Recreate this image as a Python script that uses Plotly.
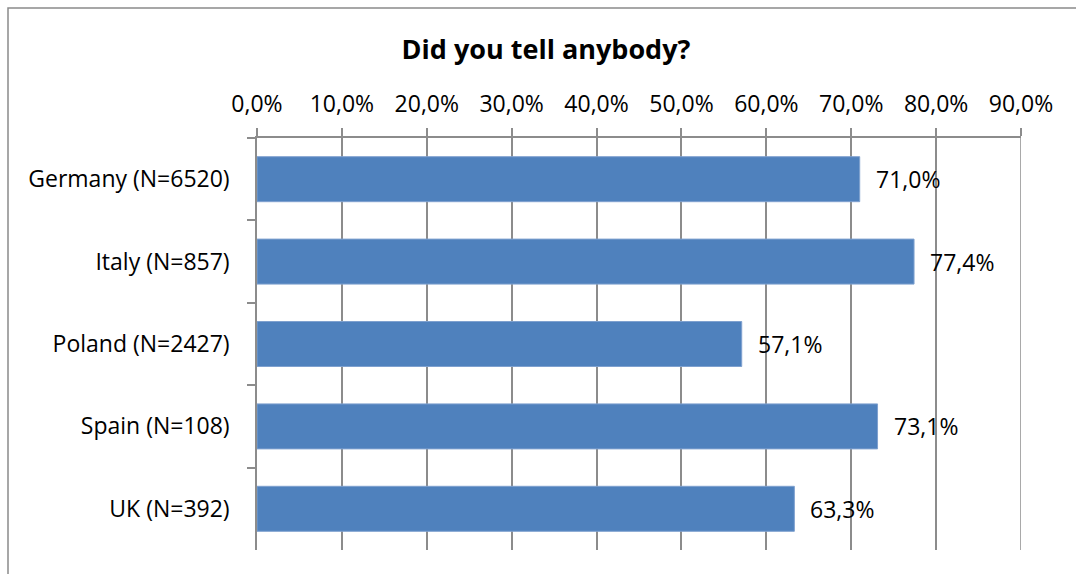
import plotly.graph_objects as go

# Survey responses: share who told anybody, by country
countries = ["Germany (N=6520)", "Italy (N=857)", "Poland (N=2427)", "Spain (N=108)", "UK (N=392)"]
told_pct = [71.0, 77.4, 57.1, 73.1, 63.3]
tick_vals = [0, 10, 20, 30, 40, 50, 60, 70, 80, 90]
tick_text = ["0,0%", "10,0%", "20,0%", "30,0%", "40,0%", "50,0%", "60,0%", "70,0%", "80,0%", "90,0%"]

W, H = 1076, 574
L, R, T, B = 257, 55, 138, 24

FONT = "Open Sans"
BAR = "#4F81BD"
AXIS = "#8C8C8C"
TXT = 23


def pct_label(v):
    return f"{v:.1f}".replace(".", ",") + "%"


fig = go.Figure()
fig.add_trace(go.Bar(
    y=countries,
    x=told_pct,
    orientation="h",
    marker=dict(color=BAR, line=dict(color="#7FA1CF", width=1)),
    width=0.546,
    hoverinfo="skip",
))

# value labels just outside the bar ends
for c, v in zip(countries, told_pct):
    fig.add_annotation(
        x=v, y=c, xref="x", yref="y",
        text=pct_label(v), showarrow=False,
        xanchor="left", yanchor="middle", xshift=14,
        font=dict(family=FONT, size=TXT, color="#000000"),
    )

# gridline at the last tick, which sits on the plot edge
fig.add_shape(
    type="line", xref="x", yref="paper",
    x0=tick_vals[-1], x1=tick_vals[-1], y0=0, y1=1,
    line=dict(color=AXIS, width=1.5), layer="below",
)

# outer chart frame
pw, ph = W - L - R, H - T - B
fig.add_shape(
    type="rect", xref="paper", yref="paper",
    x0=(8 - L) / pw, x1=(W + 10 - L) / pw,
    y0=(H - B - (H + 10)) / ph, y1=(H - B - 8) / ph,
    line=dict(color="#8A8A8A", width=1.5), fillcolor="rgba(0,0,0,0)", layer="below",
)

fig.update_layout(
    width=W, height=H,
    margin=dict(l=L, r=R, t=T, b=B),
    paper_bgcolor="white", plot_bgcolor="white",
    showlegend=False,
    bargap=0.454,
    title=dict(
        text="<b>Did you tell anybody?</b>",
        x=546 / W, xref="container", xanchor="center",
        y=1 - 50 / H, yref="container", yanchor="middle",
        font=dict(family=FONT, size=27, color="#000000"),
    ),
    xaxis=dict(
        side="top", range=[0, 90],
        tickmode="array", tickvals=tick_vals, ticktext=tick_text,
        ticks="outside", ticklen=8, tickwidth=1.5, tickcolor=AXIS,
        showgrid=True, gridcolor=AXIS, gridwidth=1.5,
        showline=True, linecolor=AXIS, linewidth=1.5,
        zeroline=False,
        tickfont=dict(family=FONT, size=TXT, color="#000000"),
        ticklabelstandoff=7,
    ),
    yaxis=dict(
        autorange="reversed",
        tickson="boundaries", ticks="outside", ticklen=8, tickwidth=1.5, tickcolor=AXIS,
        showline=True, linecolor=AXIS, linewidth=1.5,
        showgrid=False,
        tickfont=dict(family=FONT, size=TXT, color="#000000"),
        ticklabelstandoff=21,
    ),
)

fig.write_html("out.html")
